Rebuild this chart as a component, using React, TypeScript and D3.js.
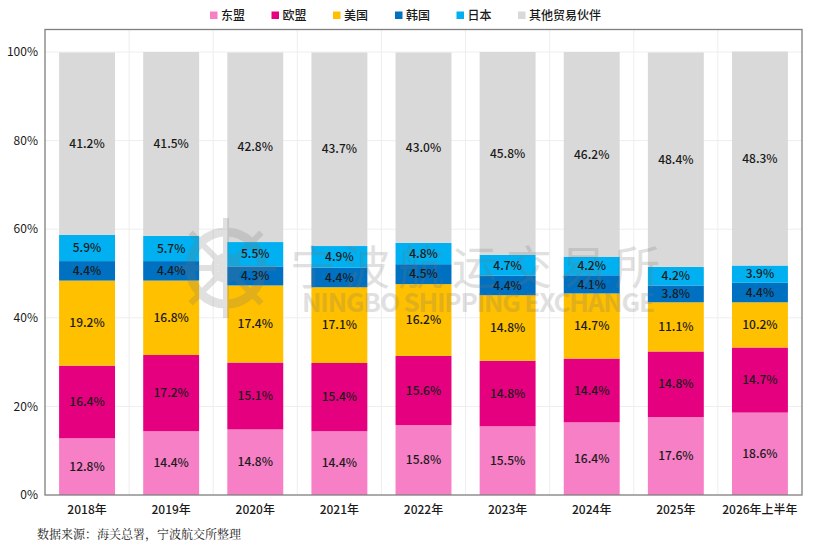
import * as d3 from "d3";
import React from "react";

// categories and series (share of trade, %)
const years = ["2018年", "2019年", "2020年", "2021年", "2022年", "2023年", "2024年", "2025年", "2026年上半年"];
const seriesNames = ["东盟", "欧盟", "美国", "韩国", "日本", "其他贸易伙伴"];
const asean = [12.8, 14.4, 14.8, 14.4, 15.8, 15.5, 16.4, 17.6, 18.6];
const eu = [16.4, 17.2, 15.1, 15.4, 15.6, 14.8, 14.4, 14.8, 14.7];
const us = [19.2, 16.8, 17.4, 17.1, 16.2, 14.8, 14.7, 11.1, 10.2];
const korea = [4.4, 4.4, 4.3, 4.4, 4.5, 4.4, 4.1, 3.8, 4.4];
const japan = [5.9, 5.7, 5.5, 4.9, 4.8, 4.7, 4.2, 4.2, 3.9];
const others = [41.2, 41.5, 42.8, 43.7, 43.0, 45.8, 46.2, 48.4, 48.3];
const yTicks = [0, 20, 40, 60, 80, 100];
const colors = ["#f77fc6", "#e5007f", "#ffc000", "#0070c0", "#00b0f0", "#d9d9d9"];
const source = "数据来源：海关总署，宁波航交所整理";

const W = 813;
const H = 547;
const margin = { top: 52, right: 11, bottom: 52, left: 45 };
const font = "'Noto Sans CJK SC', 'Noto Sans', sans-serif";

const App = (): JSX.Element => {
	const allSeries = [asean, eu, us, korea, japan, others];
	const rows = years.map((y, i) => {
		const r: Record<string, number | string> = { year: y };
		seriesNames.forEach((n, k) => (r[n] = allSeries[k][i]));
		return r;
	});
	const stack = d3.stack<Record<string, number | string>>().keys(seriesNames).value((d, k) => d[k] as number);
	const layers = stack(rows);

	const x = d3
		.scaleBand()
		.domain(years)
		.range([margin.left, W - margin.right])
		.paddingInner(0.335)
		.paddingOuter(0.1675);
	const band = d3.scaleBand().domain(years).range([margin.left, W - margin.right]);
	const y = d3.scaleLinear().domain([0, 100]).range([H - margin.bottom, margin.top]);
	const frameTop = 29.5;

	// legend layout
	const legendX = [210, 271.5, 333, 395, 456.5, 518];

	return (
		<svg width={W} height={H} style={{ position: "absolute", left: 0, top: 0 }}>
			<rect width={W} height={H} fill="#fff" />
			{/* grid */}
			{yTicks.slice(1).map((t) => (
				<line key={t} x1={margin.left} x2={W - margin.right} y1={y(t)} y2={y(t)} stroke="#eeeeee" />
			))}
			{years.slice(1).map((yr) => (
				<line key={yr} x1={band(yr)} x2={band(yr)} y1={frameTop} y2={y(0)} stroke="#eeeeee" />
			))}
			{/* bars */}
			{layers.map((layer, k) => (
				<g key={layer.key} fill={colors[k]}>
					{layer.map((d, i) => (
						<rect
							key={i}
							x={x(years[i])}
							y={y(d[1])}
							width={x.bandwidth()}
							height={y(d[0]) - y(d[1])}
						/>
					))}
				</g>
			))}
			{/* watermark */}
			<g opacity={0.22} fill="#777" stroke="#777">
				<circle cx={226} cy={268} r={36} fill="none" strokeWidth={9} />
				<circle cx={226} cy={268} r={12} fill="none" strokeWidth={6} />
				{[0, 45, 90, 135].map((a) => (
					<line
						key={a}
						x1={226 + 50 * Math.cos((a * Math.PI) / 180)}
						y1={268 + 50 * Math.sin((a * Math.PI) / 180)}
						x2={226 - 50 * Math.cos((a * Math.PI) / 180)}
						y2={268 - 50 * Math.sin((a * Math.PI) / 180)}
						strokeWidth={6}
					/>
				))}
				<text x={290} y={284} stroke="none" fontFamily={font} fontSize={46} fontWeight={400} textLength={370}>
					宁波航运交易所
				</text>
				<text x={302} y={312} stroke="none" fontFamily={font} fontSize={26} fontWeight={700} textLength={353}>
					NINGBO SHIPPING EXCHANGE
				</text>
			</g>
			{/* value labels */}
			{layers.map((layer, k) => (
				<g key={layer.key} fontFamily={font} fontSize={12} fill="#1a1a1a" fontWeight={500} textAnchor="middle">
					{layer.map((d, i) => (
						<text key={i} x={x(years[i])! + x.bandwidth() / 2} y={y((d[0] + d[1]) / 2)} dy="0.35em">
							{(d[1] - d[0]).toFixed(1)}%
						</text>
					))}
				</g>
			))}
			{/* frame */}
			<rect
				x={margin.left}
				y={frameTop}
				width={W - margin.right - margin.left}
				height={y(0) - frameTop}
				fill="none"
				stroke="#7f7f7f"
				strokeWidth={1.3}
			/>
			{/* y axis labels */}
			<g fontFamily={font} fontSize={12} fill="#1a1a1a" textAnchor="end">
				{yTicks.map((t) => (
					<text key={t} x={38} y={y(t)} dy="0.35em">
						{t}%
					</text>
				))}
			</g>
			{/* x axis labels */}
			<g fontFamily={font} fontSize={12} fill="#1a1a1a" fontWeight={500} textAnchor="middle">
				{years.map((yr) => (
					<text key={yr} x={x(yr)! + x.bandwidth() / 2} y={510} dy="0.35em">
						{yr}
					</text>
				))}
			</g>
			{/* legend */}
			<g fontFamily={font} fontSize={12} fill="#1a1a1a" fontWeight={500}>
				{seriesNames.map((n, k) => (
					<g key={n} transform={`translate(${legendX[k]},0)`}>
						<rect x={0} y={11.5} width={7.5} height={7.5} fill={colors[k]} />
						<text x={11} y={15.5} dy="0.35em">
							{n}
						</text>
					</g>
				))}
			</g>
			{/* source */}
			<text x={37} y={535} dy="0.35em" fontFamily="'Noto Serif CJK SC', serif" fontSize={12} fill="#1a1a1a">
				{source}
			</text>
		</svg>
	);
};

export default App;
